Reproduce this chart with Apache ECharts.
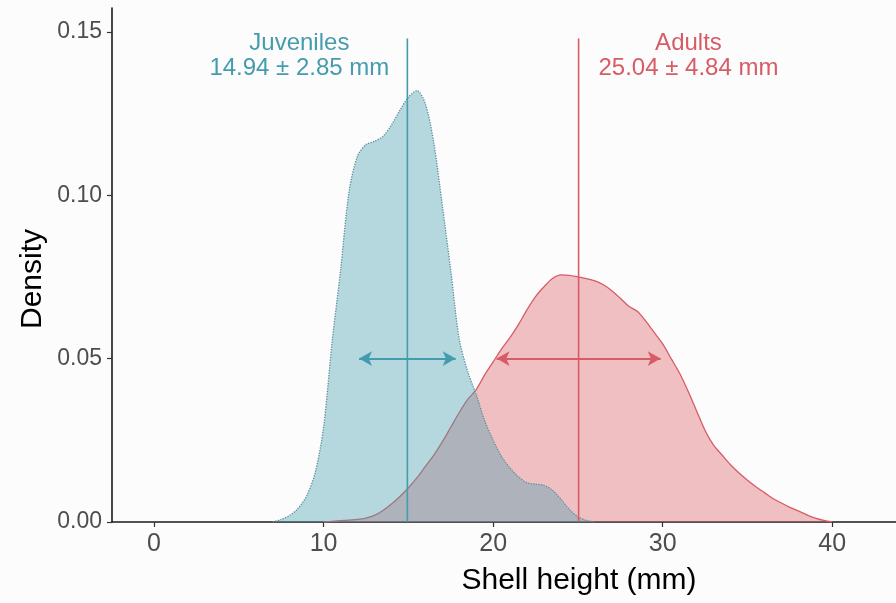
<!DOCTYPE html>
<html>
<head>
<meta charset="utf-8">
<script src="https://cdn.jsdelivr.net/npm/echarts@6/dist/echarts.min.js"></script>
<style>html,body{margin:0;padding:0;background:#fcfcfc}#c{width:896px;height:603px}</style>
</head>
<body>
<div id="c"></div>
<script>
// ---- data ----
const juvX = [7.0,7.5,8.0,8.5,9.0,9.5,10.0,10.5,11.0,11.5,12.0,12.5,13.0,13.5,14.0,14.5,15.0,15.5,16.0,16.5,17.0,17.5,18.0,18.5,19.0,19.5,20.0,20.5,21.0,21.5,22.0,22.5,23.0,23.5,24.0,24.5,25.0,25.5,26.0];
const juvDensity = [0,0.0008,0.002,0.0042,0.008,0.015,0.029,0.055,0.077,0.101,0.112,0.1155,0.1165,0.118,0.1215,0.126,0.130,0.132,0.128,0.116,0.097,0.077,0.056,0.046,0.039,0.031,0.025,0.020,0.0165,0.0138,0.012,0.0116,0.0112,0.0097,0.007,0.0038,0.0016,0.0005,0];
const adultX = [10.0,10.5,11.0,11.5,12.0,12.5,13.0,13.5,14.0,14.5,15.0,15.5,16.0,16.5,17.0,17.5,18.0,18.5,19.0,19.5,20.0,20.5,21.0,21.5,22.0,22.5,23.0,23.5,24.0,24.5,25.0,25.5,26.0,26.5,27.0,27.5,28.0,28.5,29.0,29.5,30.0,30.5,31.0,31.5,32.0,32.5,33.0,33.5,34.0,34.5,35.0,35.5,36.0,36.5,37.0,37.5,38.0,38.5,39.0,39.5,40.0];
const adultDensity = [0,0.0002,0.0004,0.0006,0.0008,0.0012,0.002,0.0035,0.0055,0.0078,0.0105,0.0135,0.017,0.0205,0.0245,0.029,0.0335,0.0375,0.0405,0.045,0.049,0.053,0.0565,0.0605,0.065,0.069,0.072,0.0745,0.0756,0.0755,0.075,0.0745,0.0738,0.0726,0.0708,0.0685,0.066,0.0645,0.0615,0.058,0.0545,0.050,0.0455,0.040,0.034,0.028,0.0235,0.0205,0.0175,0.015,0.0128,0.0108,0.009,0.0072,0.0058,0.0045,0.0034,0.0022,0.0012,0.0005,0];
const groups = ['Juveniles','Adults'];
const means = [14.94, 25.04];
const sds = [2.85, 4.84];
const xTicks = [0,10,20,30,40];
const yTicks = [0,0.05,0.10,0.15];
const arrowLevel = 0.05;
const meanLineTop = 0.148;

// ---- styles ----
const teal = '#449cae';
const red = '#d65c66';

const pairs = (xs, ys) => xs.map((x, i) => [x, ys[i]]);
const fmt = (m, s) => m.toFixed(2) + ' ± ' + s.toFixed(2) + ' mm';

const chart = echarts.init(document.getElementById('c'), null, {renderer: 'canvas'});

function meanSeries(i, color) {
  const m = means[i], s = sds[i];
  return {
    type: 'line',
    data: [[m, 0], [m, meanLineTop]],
    symbol: 'none',
    lineStyle: {color: color, width: 1.6},
    z: 5,
    silent: true,
    markLine: {
      silent: true,
      symbol: ['arrow', 'arrow'],
      symbolSize: [11, 13],
      label: {show: false},
      lineStyle: {color: color, width: 2, type: 'solid'},
      emphasis: {disabled: true},
      data: [[{coord: [m - s, arrowLevel]}, {coord: [m + s, arrowLevel]}]]
    }
  };
}

const option = {
  backgroundColor: '#fcfcfc',
  animation: false,
  grid: {left: 112, right: 0, top: 8, bottom: 81},
  xAxis: {
    type: 'value',
    min: -2.48,
    max: 43.76,
    axisLine: {show: true, onZero: false, lineStyle: {color: '#1a1a1a', width: 1.6}},
    axisTick: {show: true, length: 5, lineStyle: {color: '#333', width: 1.2}, customValues: xTicks},
    axisLabel: {fontFamily: 'Liberation Sans', fontSize: 25, color: '#4d4d4d', margin: 10, customValues: xTicks,
                formatter: v => String(v)},
    splitLine: {show: false}
  },
  yAxis: {
    type: 'value',
    min: 0,
    max: 0.1573,
    axisLine: {show: true, onZero: false, lineStyle: {color: '#1a1a1a', width: 1.6}},
    axisTick: {show: true, length: 5, lineStyle: {color: '#333', width: 1.2}, customValues: yTicks},
    axisLabel: {fontFamily: 'Liberation Sans', fontSize: 23, color: '#4d4d4d', margin: 10, customValues: yTicks,
                formatter: v => v.toFixed(2)},
    splitLine: {show: false}
  },
  graphic: [
    {type: 'text', x: 579, y: 581, style: {text: 'Shell height (mm)', fontFamily: 'Liberation Sans', fontSize: 30, fill: '#000', align: 'center', verticalAlign: 'middle'}},
    {type: 'text', x: 33, y: 279, rotation: Math.PI / 2, style: {text: 'Density', fontFamily: 'Liberation Sans', fontSize: 30, fill: '#000', align: 'center', verticalAlign: 'middle'}}
  ],
  series: [
    {
      name: groups[1], type: 'line', data: pairs(adultX, adultDensity), smooth: 0.3, symbol: 'none',
      lineStyle: {color: red, width: 1.3},
      areaStyle: {color: '#dc646c', opacity: 0.4},
      z: 2, silent: true
    },
    {
      name: groups[0], type: 'line', data: pairs(juvX, juvDensity), smooth: 0.3, symbol: 'none',
      lineStyle: {color: '#5a8f9c', width: 1.3, type: 'dotted'},
      areaStyle: {color: '#4a9fb1', opacity: 0.4},
      z: 3, silent: true
    },
    meanSeries(0, teal),
    meanSeries(1, red),
    {
      type: 'scatter', symbolSize: 0, silent: true, z: 6,
      data: [[8.57, 0.1428], [31.52, 0.1428]].map((d, i) => ({
        value: d,
        label: {color: i === 0 ? teal : red}
      })),
      label: {
        show: true, position: 'inside', opacity: 1,
        fontFamily: 'Liberation Sans', fontSize: 24, lineHeight: 25,
        formatter: p => groups[p.dataIndex] + '\n' + fmt(means[p.dataIndex], sds[p.dataIndex]),
        align: 'center', verticalAlign: 'middle'
      },
      itemStyle: {opacity: 1}
    }
  ]
};
chart.setOption(option);
</script>
</body>
</html>
